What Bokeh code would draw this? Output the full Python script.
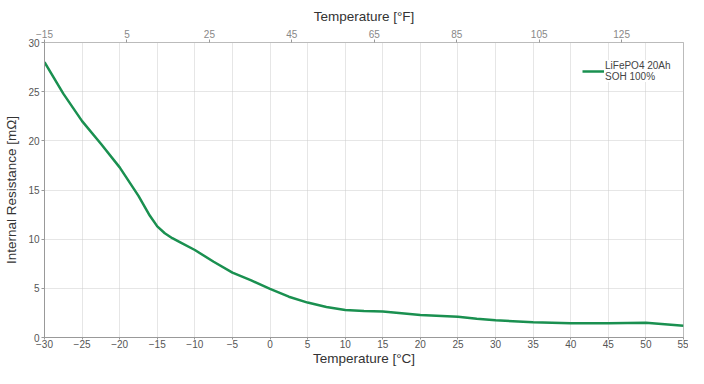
from bokeh.plotting import figure
from bokeh.models import (Range1d, LinearAxis, FixedTicker, Legend, LegendItem)
from bokeh.embed import file_html
from bokeh.resources import INLINE

# data
temperature_c = [-30, -27.5, -25, -22.5, -20, -17.5, -16, -15, -14, -13, -12, -10, -7.5, -5, -2.5, 0,
                 2.5, 5, 7.5, 10, 12.5, 15, 20, 25, 27.5, 30, 35, 40, 45, 50, 55]
resistance = [28.0, 24.8, 22.0, 19.7, 17.3, 14.4, 12.4, 11.3, 10.6, 10.1, 9.7, 8.9, 7.7, 6.6, 5.8, 4.95,
              4.15, 3.55, 3.1, 2.8, 2.7, 2.65, 2.3, 2.1, 1.9, 1.75, 1.55, 1.45, 1.45, 1.5, 1.2]
c_ticks = list(range(-30, 60, 5))
f_ticks = [-15, 5, 25, 45, 65, 85, 105, 125]
y_ticks = [0, 5, 10, 15, 20, 25, 30]
series_label = "LiFePO4 20Ah\nSOH 100%"

FONT = "Liberation Sans"

p = figure(width=688, height=368, output_backend="svg", toolbar_location=None,
           x_range=Range1d(-30, 55), y_range=Range1d(0, 30),
           min_border_left=44, min_border_right=5, min_border_top=42, min_border_bottom=27,
           x_axis_label="Temperature [°C]", y_axis_label="Internal Resistance [mΩ]")
bottom = p.below[0]
left = p.left[0]
p.extra_x_ranges = {"F": Range1d(-15, 140)}

top = LinearAxis(x_range_name="F", axis_label="Temperature [°F]",
                 ticker=FixedTicker(ticks=f_ticks))
p.add_layout(top, "above")

bottom.ticker = FixedTicker(ticks=c_ticks)
left.ticker = FixedTicker(ticks=y_ticks)

for ax in [bottom, left, top]:
    ax.axis_line_color = "#999999"
    ax.major_tick_line_color = "#999999"
    ax.major_tick_in = 0
    ax.major_tick_out = 3
    ax.minor_tick_line_color = None
    ax.major_label_text_font = FONT
    ax.major_label_text_font_size = "10px"
    ax.major_label_text_color = "#555555"
    ax.major_label_standoff = 2
    ax.axis_label_text_font = FONT
    ax.axis_label_text_font_size = "13.5px"
    ax.axis_label_text_font_style = "normal"
    ax.axis_label_text_color = "#333333"
    ax.axis_label_standoff = 4
bottom.major_label_standoff = 0
bottom.axis_label_standoff = 0
bottom.major_tick_out = 2
left.axis_label_standoff = 6
top.axis_line_color = "#bbbbbb"
top.major_label_text_color = "#888888"
top.axis_label_standoff = 3

p.xgrid.ticker = FixedTicker(ticks=c_ticks)
p.ygrid.ticker = FixedTicker(ticks=y_ticks)
for g in [p.xgrid, p.ygrid]:
    g.grid_line_color = "#cccccc"
    g.grid_line_dash = "1 1"

p.outline_line_color = "#bbbbbb"
p.background_fill_color = "white"
p.border_fill_color = "white"

r = p.line(temperature_c, resistance, line_color="#1a9050", line_width=2.5)

legend = Legend(items=[LegendItem(label=series_label, renderers=[r])],
                location=(538, 255), border_line_color=None,
                background_fill_color="white", background_fill_alpha=1.0,
                label_text_font=FONT, label_text_font_size="10px",
                label_text_color="#444444", label_standoff=1, label_width=68,
                glyph_width=22, glyph_height=12, padding=10, margin=0)
p.add_layout(legend)

open("out.html", "w").write(file_html(p, INLINE))
